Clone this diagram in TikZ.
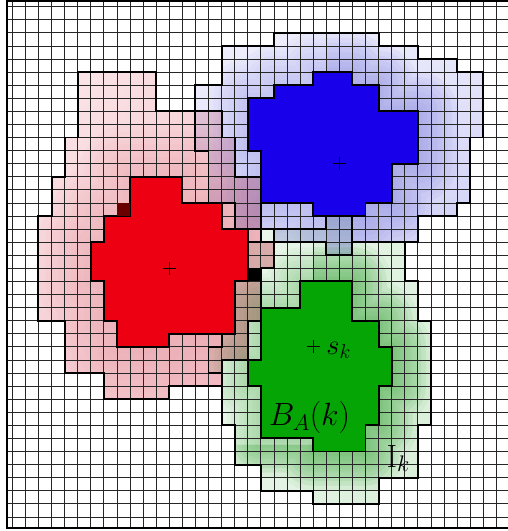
\RequirePackage{fix-cm}
\documentclass[tikz,border=0pt]{standalone}
\usetikzlibrary{shadings}
\begin{document}
\begin{tikzpicture}[x=0.5cm,y=-0.5cm,
  gridline/.style={draw=black!85,line width=0.8pt},
  outline/.style={draw=black,line width=2.1pt,line join=miter},
  framel/.style={draw=black,line width=1.8pt},
  crossm/.style={draw=black,line width=1.1pt},
  lbl/.style={inner sep=0pt,font=\fontsize{35}{40}\selectfont}]
\definecolor{rsolid}{RGB}{236,0,18}
\definecolor{bsolid}{RGB}{25,0,235}
\definecolor{gsolid}{RGB}{5,165,5}
\definecolor{rdark}{RGB}{104,0,0}
% base corner tints and halo colours
\definecolor{rUL}{RGB}{251,232,235}\definecolor{rUR}{RGB}{246,208,213}
\definecolor{rLL}{RGB}{245,205,210}\definecolor{rLR}{RGB}{241,182,189}
\definecolor{rS}{RGB}{236,150,160}
\definecolor{bUL}{RGB}{240,240,252}\definecolor{bUR}{RGB}{232,232,251}
\definecolor{bLL}{RGB}{220,220,248}\definecolor{bLR}{RGB}{206,206,245}
\definecolor{bS}{RGB}{150,150,234}
\definecolor{gUL}{RGB}{236,247,236}\definecolor{gUR}{RGB}{224,242,224}
\definecolor{gLL}{RGB}{232,245,232}\definecolor{gLR}{RGB}{216,238,216}
\definecolor{gS}{RGB}{90,182,90}
\newcommand{\ringshade}[7]{% outer, inner, bbox a, bbox b, prefix, halo width, layer opacity
  \clip #1;
  \shade[upper left=#5UL,upper right=#5UR,lower left=#5LL,lower right=#5LR] #3 rectangle #4;
  \foreach \k in {1,...,8} {
    \draw[line width=2*#6*\k/8*14.2263pt, draw=#5S, draw opacity=#7, line join=round] #2;
  }}
\def\redout{(5,5) -- (11,5) -- (11,8) -- (16,8) -- (16,10) -- (17,10) -- (17,13) -- (19,13) -- (19,18) -- (20,18) -- (20,20) -- (19,20) -- (19,24) -- (18,24) -- (18,27) -- (16,27) -- (16,29) -- (12,29) -- (12,30) -- (7,30) -- (7,28) -- (4,28) -- (4,24) -- (2,24) -- (2,16) -- (3,16) -- (3,13) -- (4,13) -- (4,10) -- (5,10) -- cycle}
\def\blueout{(16,3) -- (20,3) -- (20,2) -- (28,2) -- (28,3) -- (31,3) -- (31,4) -- (34,4) -- (34,5) -- (36,5) -- (36,10) -- (35,10) -- (35,15) -- (34,15) -- (34,16) -- (31,16) -- (31,18) -- (26,18) -- (26,19) -- (24,19) -- (24,18) -- (20,18) -- (20,17) -- (17,17) -- (17,15) -- (15,15) -- (15,11) -- (14,11) -- (14,6) -- (16,6) -- cycle}
\def\greenout{(19,17) -- (24,17) -- (24,16) -- (26,16) -- (26,18) -- (30,18) -- (30,21) -- (31,21) -- (31,24) -- (32,24) -- (32,32) -- (31,32) -- (31,36) -- (28,36) -- (28,38) -- (23,38) -- (23,37) -- (19,37) -- (19,35) -- (17,35) -- (17,32) -- (16,32) -- (16,28) -- (15,28) -- (15,26) -- (16,26) -- (16,25) -- (17,25) -- (17,21) -- (18,21) -- (18,18) -- (19,18) -- cycle}
\def\redin{(9,13) -- (13,13) -- (13,15) -- (16,15) -- (16,17) -- (18,17) -- (18,21) -- (17,21) -- (17,25) -- (12,25) -- (12,26) -- (8,26) -- (8,24) -- (7,24) -- (7,21) -- (6,21) -- (6,18) -- (7,18) -- (7,16) -- (9,16) -- cycle}
\def\bluein{(18,7) -- (20,7) -- (20,6) -- (23,6) -- (23,5) -- (26,5) -- (26,6) -- (28,6) -- (28,8) -- (31,8) -- (31,12) -- (29,12) -- (29,15) -- (27,15) -- (27,16) -- (23,16) -- (23,15) -- (19,15) -- (19,11) -- (18,11) -- cycle}
\def\greenin{(22,21) -- (26,21) -- (26,24) -- (28,24) -- (28,26) -- (29,26) -- (29,29) -- (28,29) -- (28,32) -- (27,32) -- (27,34) -- (23,34) -- (23,33) -- (19,33) -- (19,29) -- (18,29) -- (18,27) -- (19,27) -- (19,23) -- (22,23) -- cycle}
\useasboundingbox (-0.940,-0.512) rectangle (37.820,40.080);
% shaded outer regions (each a group, multiplied onto the others)
\begin{scope}[blend mode=multiply]
  \begin{scope}[transparency group]
    \ringshade{\redout}{\redin}{(2,5)}{(20,30)}{r}{4}{0.06}
  \end{scope}
  \begin{scope}[transparency group]
    \ringshade{\blueout}{\bluein}{(14,2)}{(36,19)}{b}{3}{0.06}
    \clip (24,2) rectangle (37,19);
    \foreach \k in {1,...,8} {
      \draw[line width=2*3*\k/8*14.2263pt, draw=bS, draw opacity=0.05, line join=round] \bluein;
    }
  \end{scope}
  \begin{scope}[transparency group]
    \ringshade{\greenout}{\greenin}{(15,16)}{(32,38)}{g}{2.6}{0.06}
    \clip (23,15) rectangle (33,39) (15,33.5) rectangle (33,39);
    \foreach \k in {1,...,8} {
      \draw[line width=2*3*\k/8*14.2263pt, draw=gS, draw opacity=0.08, line join=round] \greenin;
    }
  \end{scope}
\end{scope}
% grid
\foreach \j in {0,...,39} \draw[gridline] (-0.43,\j) -- (38.2,\j);
\foreach \i in {0,...,38} \draw[gridline] (\i,-0.44) -- (\i,39.86);
% outer outlines
\path[outline] \redout;
\path[outline] \blueout;
\path[outline] \greenout;
% inner regions
\path[outline,fill=rsolid] \redin;
\path[outline,fill=bsolid] \bluein;
\path[outline,fill=gsolid] \greenin;
% special cells
\fill[rdark] (8,15) rectangle (9,16);
\fill[black] (18,20) rectangle (19,21);
% centres
\coordinate (sr) at (12,20);
\coordinate (sb) at (25,12);
\coordinate (sg) at (23,26);
\foreach \c in {sr,sb,sg} {\draw[crossm] ([xshift=-0.25cm]\c) -- ([xshift=0.25cm]\c); \draw[crossm] ([yshift=-0.25cm]\c) -- ([yshift=0.25cm]\c);}
% labels
\node[lbl,font=\fontsize{31}{36}\selectfont,anchor=base west] (lsk) at (24.0,26.55) {$s_k$};
\node[lbl,anchor=base west] (lba) at (19.6,32.03) {$B_A(k)$};
\node[lbl,anchor=base west] (lik) at (28.6,35.2) {$\mathrm{I}_k$};
% frame
\draw[framel] (38.5,-0.436) -- (-0.428,-0.436) -- (-0.428,39.85) -- (38.5,39.85);
\end{tikzpicture}
\end{document}
